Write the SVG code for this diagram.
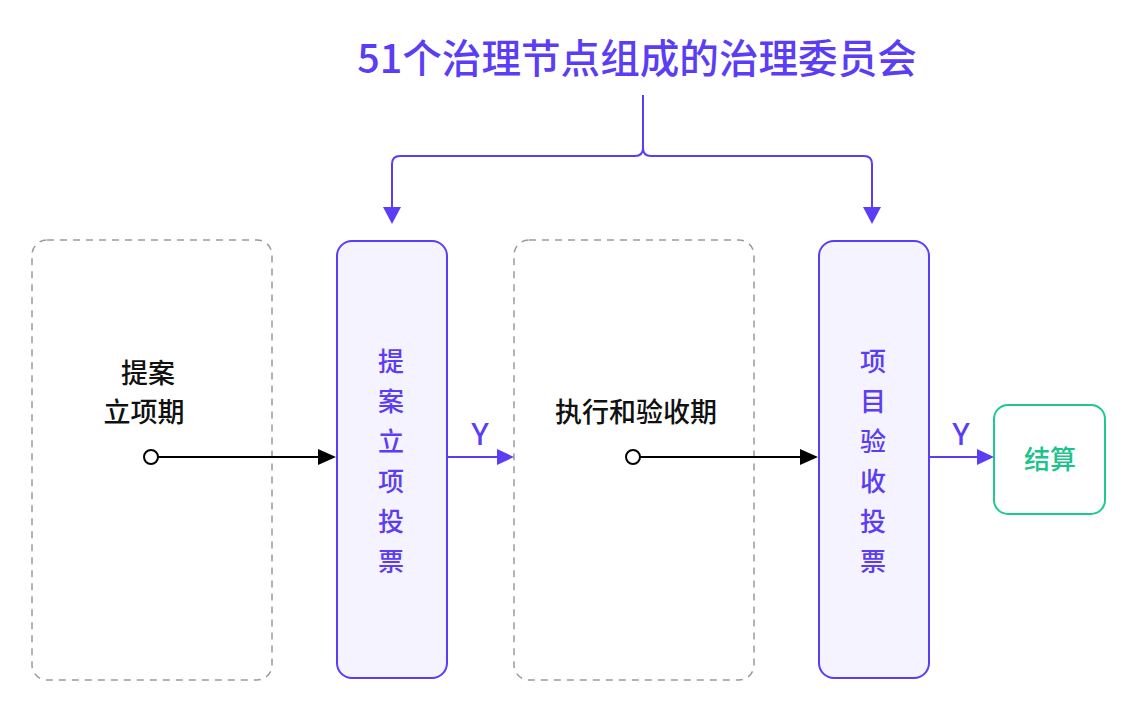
<svg xmlns="http://www.w3.org/2000/svg" width="1123" height="720" viewBox="0 0 1123 720">
  <style>
    .cjk { font-family: "Noto Sans CJK SC", "Noto Sans", sans-serif; }
    .title { font-size: 39.6px; font-weight: 500; fill: #5b3df5; }
    .phase { fill: none; stroke: #9a9a9a; stroke-width: 1.5; stroke-dasharray: 7 6; }
    .vote { fill: #f5f3ff; stroke: #5b3df5; stroke-width: 2; }
    .vote-text { font-size: 26px; font-weight: 500; fill: #5b3df5; }
    .phase-text { font-size: 27px; font-weight: 500; fill: #111111; }
    .done { fill: #ffffff; stroke: #1ccb8c; stroke-width: 2; }
    .done-text { font-size: 26px; font-weight: 500; fill: #1cc48a; }
    .yes { font-family: "Noto Sans", "Liberation Sans", sans-serif; font-size: 30px; font-weight: 500; fill: #5b3df5; }
    .wire-p { fill: none; stroke: #5b3df5; stroke-width: 2; }
    .wire-k { fill: none; stroke: #000000; stroke-width: 2; }
    .head-p { fill: #5b3df5; }
    .head-k { fill: #000000; }
    .start { fill: #ffffff; stroke: #000000; stroke-width: 2; }
  </style>

  <!-- committee heading -->
  <g id="committee">
    <text class="cjk title" x="637" y="73" text-anchor="middle">51个治理节点组成的治理委员会</text>
  </g>

  <!-- proposal phase -->
  <g id="proposal-phase">
    <rect class="phase" x="32" y="240" width="240" height="440" rx="15"/>
    <text class="cjk phase-text" x="148" y="383" text-anchor="middle">提案</text>
    <text class="cjk phase-text" x="144" y="422" text-anchor="middle">立项期</text>
  </g>

  <!-- proposal vote -->
  <g id="proposal-vote">
    <rect class="vote" x="337" y="241" width="110" height="437" rx="15"/>
    <g class="cjk vote-text" text-anchor="middle">
      <text x="391" y="371">提</text>
      <text x="391" y="411">案</text>
      <text x="391" y="451">立</text>
      <text x="391" y="491">项</text>
      <text x="391" y="531">投</text>
      <text x="391" y="571">票</text>
    </g>
  </g>

  <!-- execution and acceptance phase -->
  <g id="execution-phase">
    <rect class="phase" x="514" y="240" width="240" height="440" rx="15"/>
    <text class="cjk phase-text" x="636" y="422" text-anchor="middle">执行和验收期</text>
  </g>

  <!-- acceptance vote -->
  <g id="acceptance-vote">
    <rect class="vote" x="819" y="241" width="110" height="437" rx="15"/>
    <g class="cjk vote-text" text-anchor="middle">
      <text x="873" y="371">项</text>
      <text x="873" y="411">目</text>
      <text x="873" y="451">验</text>
      <text x="873" y="491">收</text>
      <text x="873" y="531">投</text>
      <text x="873" y="571">票</text>
    </g>
  </g>

  <!-- settlement -->
  <g id="settlement">
    <rect class="done" x="994" y="405" width="111" height="109" rx="14"/>
    <text class="cjk done-text" x="1050" y="469" text-anchor="middle">结算</text>
  </g>

  <!-- connectors -->
  <g id="connectors">
    <!-- committee feeds both votes -->
    <path class="wire-p" d="M643,95 V148 Q643,156 635,156 H400 Q392,156 392,164 V208"/>
    <path class="wire-p" d="M643,148 Q643,156 651,156 H864 Q872,156 872,164 V208"/>
    <polygon class="head-p" points="383,207 401,207 392,224"/>
    <polygon class="head-p" points="863,207 881,207 872,224"/>

    <!-- phase to vote -->
    <circle class="start" cx="151" cy="457" r="7"/>
    <line class="wire-k" x1="158" y1="457" x2="320" y2="457"/>
    <polygon class="head-k" points="318,449 336,457 318,465"/>

    <circle class="start" cx="633" cy="457" r="7"/>
    <line class="wire-k" x1="640" y1="457" x2="802" y2="457"/>
    <polygon class="head-k" points="800,449 818,457 800,465"/>

    <!-- vote passed -->
    <line class="wire-p" x1="447" y1="457" x2="500" y2="457"/>
    <polygon class="head-p" points="497,449 514,457 497,465"/>
    <text class="yes" x="480" y="445" text-anchor="middle">Y</text>

    <line class="wire-p" x1="929" y1="457" x2="980" y2="457"/>
    <polygon class="head-p" points="977,449 994,457 977,465"/>
    <text class="yes" x="961" y="445" text-anchor="middle">Y</text>
  </g>
</svg>
